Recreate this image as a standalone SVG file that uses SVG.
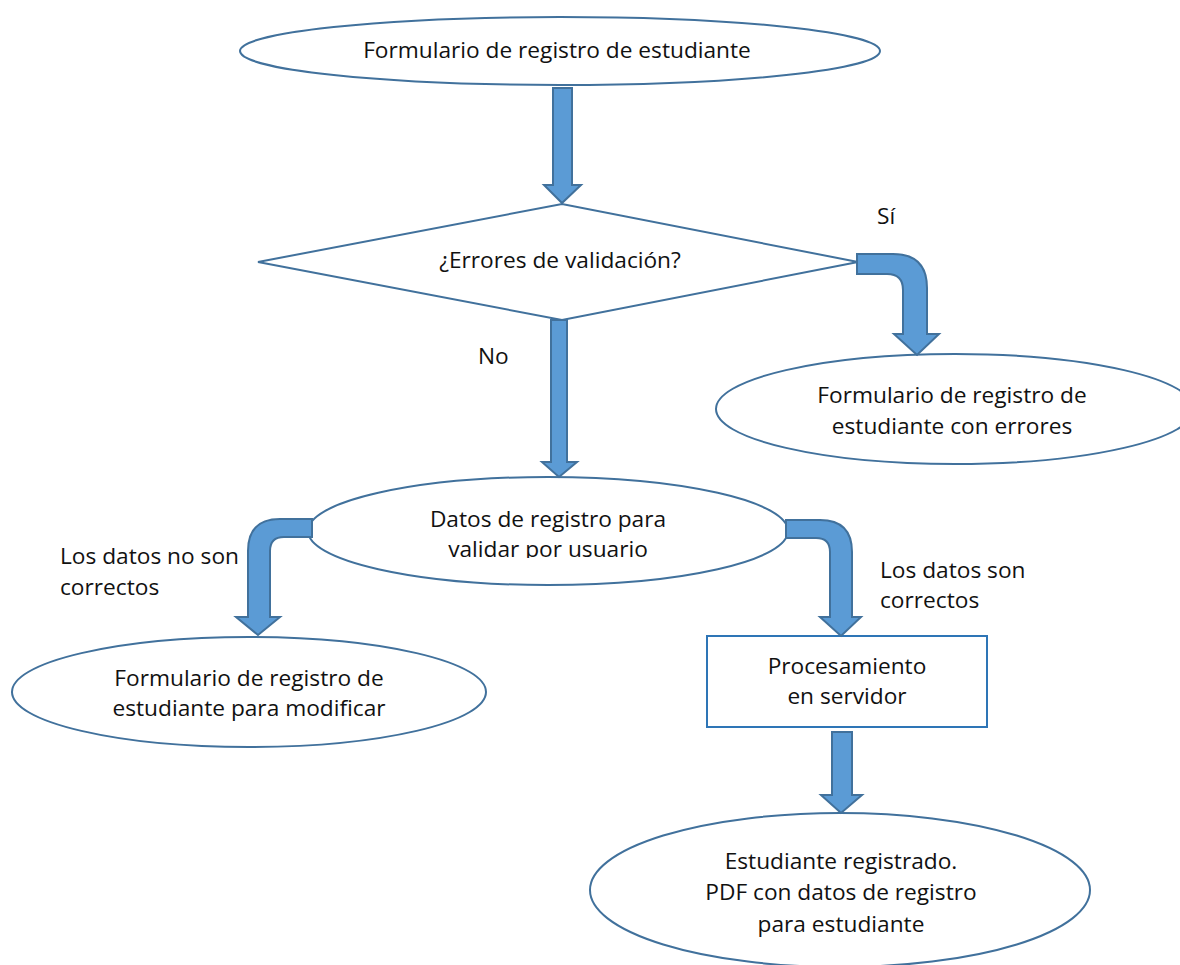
<svg xmlns="http://www.w3.org/2000/svg" width="1180" height="965" viewBox="0 0 1180 965">
<style>
.node{fill:#ffffff;stroke:#41719C;stroke-width:2}
.rect{fill:#ffffff;stroke:#2E75B6;stroke-width:2}
.arr{fill:#5B9BD5;stroke:#41719C;stroke-width:2;stroke-linejoin:miter}
text{font-family:"Open Sans","Noto Sans","DejaVu Sans",sans-serif;font-size:22.7px;fill:#111111}
.c{text-anchor:middle}
</style>
<defs>
<clipPath id="clipDatos"><rect x="300" y="470" width="500" height="88"/></clipPath>
</defs>
<rect x="0" y="0" width="1180" height="965" fill="#ffffff"/>
<g id="n-formulario">
<ellipse class="node" cx="560" cy="51" rx="320" ry="34"/>
<text class="c" x="557" y="58">Formulario de registro de estudiante</text>
</g>
<g id="n-errores">
<polygon class="node" points="258,262 562,204 858,262 562,320"/>
<text class="c" x="560" y="268">¿Errores de validación?</text>
</g>
<g id="n-con-errores">
<ellipse class="node" cx="955" cy="409" rx="239" ry="55"/>
<text class="c" x="952" y="403">Formulario de registro de</text>
<text class="c" x="952" y="434">estudiante con errores</text>
</g>
<g id="n-datos">
<ellipse class="node" cx="548" cy="531" rx="240" ry="54"/>
<g clip-path="url(#clipDatos)">
<text class="c" x="548" y="527">Datos de registro para</text>
<text class="c" x="548" y="557">validar por usuario</text>
</g>
</g>
<g id="n-modificar">
<ellipse class="node" cx="249" cy="692" rx="237" ry="55"/>
<text class="c" x="249" y="686">Formulario de registro de</text>
<text class="c" x="249" y="716">estudiante para modificar</text>
</g>
<g id="n-procesamiento">
<rect class="rect" x="707" y="636" width="280" height="91"/>
<text class="c" x="847" y="674">Procesamiento</text>
<text class="c" x="847" y="704">en servidor</text>
</g>
<g id="n-registrado">
<ellipse class="node" cx="840" cy="890" rx="250" ry="77"/>
<text class="c" x="841" y="869">Estudiante registrado.</text>
<text class="c" x="841" y="900">PDF con datos de registro</text>
<text class="c" x="841" y="932">para estudiante</text>
</g>
<g id="connectors">
<path class="arr" d="M553,88 V185 H544 L562,203 L581,185 H572 V88 Z"/>
<path class="arr" d="M857,254 H893 Q927,254 927,288 V334 H939 L917,355 L894,334 H903 V290 Q903,274 887,274 H857 Z"/>
<path class="arr" d="M551,320 V462 H542 L559,477 L577,462 H567 V320 Z"/>
<path class="arr" d="M312,519 H280 Q248,519 248,551 V617 H236 L258,635 L280,617 H270 V551 Q270,537 284,537 H312 Z"/>
<path class="arr" d="M786,520 H820 Q852,520 852,552 V617 H861 L841,636 L820,617 H830 V552 Q830,538 816,538 H786 Z"/>
<path class="arr" d="M832,732 V795 H821 L841,813 L862,795 H852 V732 Z"/>
<text x="877" y="224">Sí</text>
<text x="478" y="364">No</text>
<text x="60" y="564">Los datos no son</text>
<text x="60" y="595">correctos</text>
<text x="880" y="578">Los datos son</text>
<text x="880" y="608">correctos</text>
</g>
</svg>
